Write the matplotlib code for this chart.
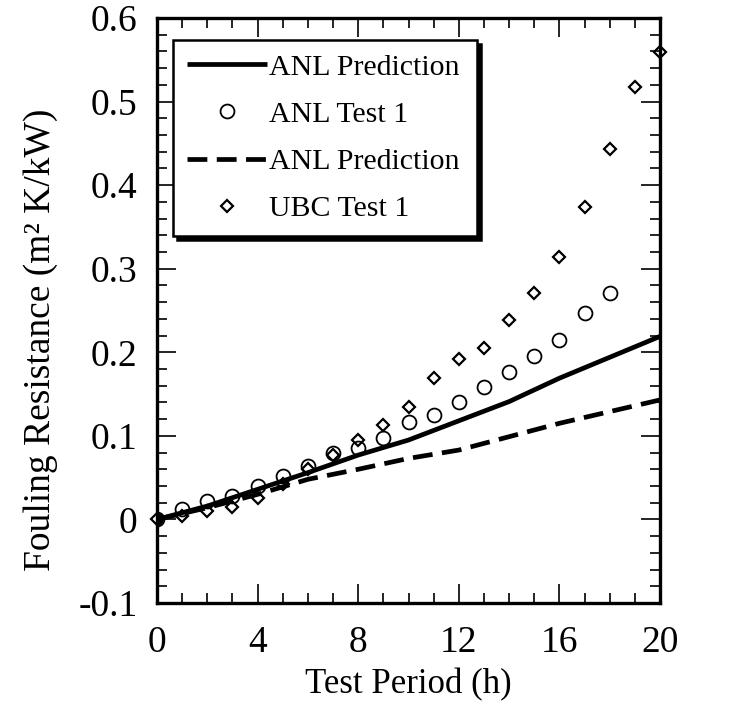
import numpy as np
import matplotlib
matplotlib.use("Agg")
import matplotlib.pyplot as plt
from matplotlib.ticker import MultipleLocator, FuncFormatter

# data
hours = np.arange(0, 21)
anl_test_x = np.arange(0, 19)
anl_test_y = [0.0, 0.012, 0.022, 0.028, 0.040, 0.052, 0.064, 0.079, 0.086, 0.098,
              0.116, 0.125, 0.140, 0.158, 0.176, 0.196, 0.215, 0.247, 0.271]
ubc_test_y = [0.0, 0.004, 0.010, 0.015, 0.026, 0.042, 0.060, 0.077, 0.095, 0.113,
              0.134, 0.169, 0.192, 0.205, 0.239, 0.271, 0.314, 0.374, 0.443, 0.518, 0.559]
pred_x = [0, 2, 4, 6, 8, 10, 12, 14, 16, 18, 20]
pred_solid = [0.0, 0.016, 0.036, 0.056, 0.077, 0.095, 0.118, 0.141, 0.169, 0.194, 0.219]
pred_dash = [0.0, 0.014, 0.030, 0.048, 0.060, 0.073, 0.083, 0.099, 0.115, 0.129, 0.143]

plt.rcParams['font.family'] = ['Liberation Serif', 'DejaVu Serif']

fig = plt.figure(figsize=(7.56, 7.04), dpi=100)
ax = fig.add_axes([157 / 756, 1 - 603 / 704, 503 / 756, 585 / 704])

l1, = ax.plot(pred_x, pred_solid, color='black', lw=3.4, solid_capstyle='butt')
m1, = ax.plot(anl_test_x, anl_test_y, 'o', mfc='none', mec='black', ms=10, mew=1.3)
l2, = ax.plot(pred_x, pred_dash, color='black', lw=3.4, dashes=(4.2, 2.0))
m2, = ax.plot(hours, ubc_test_y, 'D', mfc='none', mec='black', ms=6.5, mew=1.6,
              clip_on=False)
ax.plot([0], [0], 'o', color='black', ms=8)

ax.set_xlim(0, 20)
ax.set_ylim(-0.1, 0.6)
ax.xaxis.set_major_locator(MultipleLocator(4))
ax.xaxis.set_minor_locator(MultipleLocator(1))
ax.yaxis.set_major_locator(MultipleLocator(0.1))
ax.yaxis.set_minor_locator(MultipleLocator(0.02))
ax.yaxis.set_major_formatter(FuncFormatter(lambda v, p: "0" if abs(v) < 1e-9 else f"{v:.1f}"))
ax.tick_params(which='both', direction='in', top=True, right=True, width=1.2,
               labelsize=27, color='black')
ax.tick_params(which='major', length=14)
ax.tick_params(which='minor', length=7)
ax.tick_params(axis='y', which='major', pad=14)
ax.tick_params(axis='x', which='major', pad=16)
for s in ax.spines.values():
    s.set_linewidth(2.4)

ax.set_xlabel("Test Period (h)", fontsize=25, labelpad=6)
ax.set_ylabel("Fouling Resistance (m² K/kW)", fontsize=27)
ax.yaxis.set_label_coords(-0.197, 0.45)

leg = ax.legend([l1, m1, l2, m2],
                ["ANL Prediction", "ANL Test 1", "ANL Prediction", "UBC Test 1"],
                loc='upper left', bbox_to_anchor=(0.032, 0.5, 0.604, 0.462),
                mode='expand', fontsize=21.5,
                fancybox=False, framealpha=1, edgecolor='black',
                handlelength=2.7, handletextpad=0.05, borderpad=0.45,
                labelspacing=0.68, borderaxespad=0,
                shadow={'color': 'black', 'alpha': 1, 'ox': 3, 'oy': -3})
leg.get_frame().set_linewidth(1.8)

fig.savefig("out.png", dpi=100)
